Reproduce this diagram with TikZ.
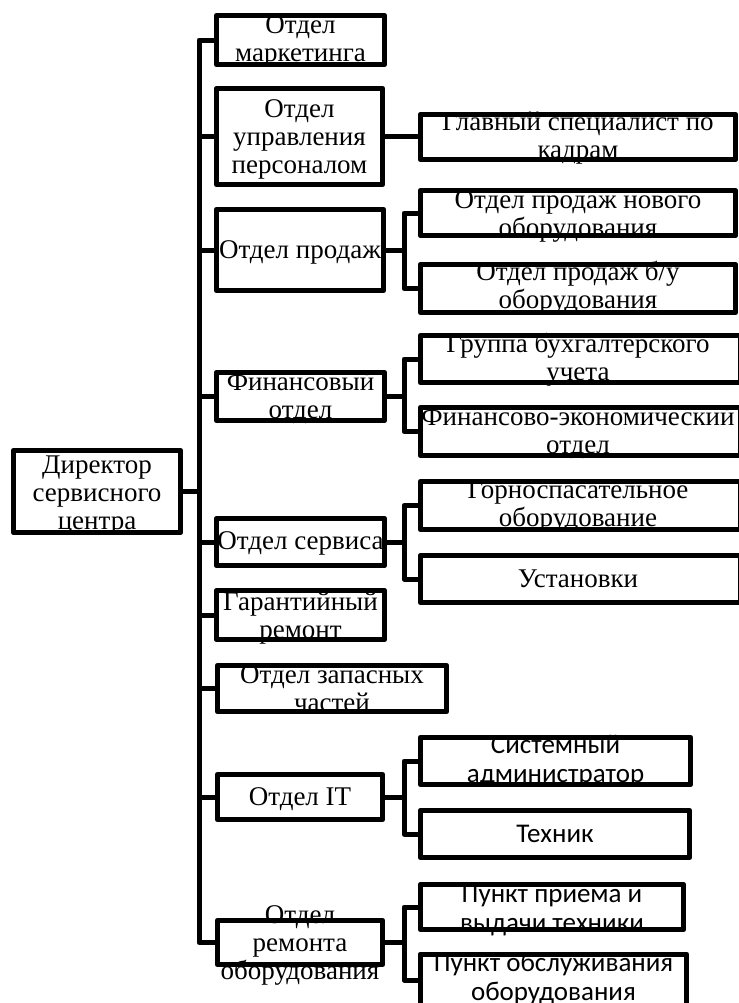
\documentclass[tikz,border=0pt]{standalone}
\usepackage{fontspec}
\setmainfont{Liberation Serif}
\newfontfamily\calfont{Carlito}
\tikzset{
  boxst/.style={draw, line width=5bp, inner sep=0pt, outer sep=0pt, line join=round, rectangle},
  conn/.style={line width=5bp, line join=round},
  txt/.style={inner sep=0pt, outer sep=0pt, align=center, anchor=north, font=\fontsize{27bp}{28bp}\selectfont},
  ctxt/.style={txt, font=\calfont\fontsize{27bp}{29bp}\selectfont},
}
\begin{document}
\begin{tikzpicture}[x=1bp,y=-1bp]
\useasboundingbox (0,0) rectangle (739,1003);
\coordinate (tr) at (199,0);
\coordinate (sb) at (404,0);
% boxes
\node[boxst, minimum width=167.5bp, minimum height=82.5bp] (dir) at (97,491.5) {};
\node[boxst, minimum width=168.5bp, minimum height=49.5bp] (mkt) at (300.5,40) {};
\node[boxst, minimum width=166.5bp, minimum height=96.5bp] (upr) at (299.5,136.5) {};
\node[boxst, minimum width=167.5bp, minimum height=81.5bp] (prod) at (300,250) {};
\node[boxst, minimum width=168.5bp, minimum height=48.5bp] (fin) at (300.5,396.5) {};
\node[boxst, minimum width=168.5bp, minimum height=47.5bp] (serv) at (300.5,542) {};
\node[boxst, minimum width=168.5bp, minimum height=49.5bp] (gar) at (300.5,615) {};
\node[boxst, minimum width=229.5bp, minimum height=46.5bp] (zap) at (332,688.5) {};
\node[boxst, minimum width=165.5bp, minimum height=45.5bp] (it) at (300,797) {};
\node[boxst, minimum width=165.5bp, minimum height=44.5bp] (rem) at (300,942.5) {};
\node[boxst, minimum width=315.5bp, minimum height=45.5bp] (glav) at (578,137) {};
\node[boxst, minimum width=315.5bp, minimum height=45.5bp] (pnew) at (578,213) {};
\node[boxst, minimum width=315.5bp, minimum height=48.5bp] (pbu) at (578,288.5) {};
\node[boxst, minimum width=320.5bp, minimum height=47.5bp] (gr) at (580.5,359) {};
\node[boxst, minimum width=320.5bp, minimum height=48.5bp] (fe) at (580.5,431.5) {};
\node[boxst, minimum width=320.5bp, minimum height=48.5bp] (gorn) at (580.5,505.5) {};
\node[boxst, minimum width=320.5bp, minimum height=47.5bp] (ust) at (580.5,579) {};
\node[boxst, minimum width=270.5bp, minimum height=47.5bp] (sys) at (555.5,761) {};
\node[boxst, minimum width=269.5bp, minimum height=47.5bp] (teh) at (555,834) {};
\node[boxst, minimum width=263.5bp, minimum height=45.5bp] (pp) at (552,907) {};
\node[boxst, minimum width=266.5bp, minimum height=52bp] (po) at (553.5,980) {};
% texts
\node[txt] (dir-t) at (97,453.4) {\strut Директор\\\strut сервисного\\\strut центра};
\node[txt] (mkt-t) at (300.5,13.4) {\strut Отдел\\\strut маркетинга};
\node[txt] (upr-t) at (299.5,97.4) {\strut Отдел\\\strut управления\\\strut персоналом};
\node[txt] (prod-t) at (300,238.4) {\strut Отдел продаж};
\node[txt] (fin-t) at (300.5,370.4) {\strut Финансовый\\\strut отдел};
\node[txt] (serv-t) at (300.5,529.4) {\strut Отдел сервиса};
\node[txt] (gar-t) at (300.5,590.4) {\strut Гарантийный\\\strut ремонт};
\node[txt] (zap-t) at (332,663.4) {\strut Отдел запасных\\\strut частей};
\node[txt] (it-t) at (300,785.4) {\strut Отдел IT};
\node[txt] (rem-t) at (300,903.4) {\strut Отдел\\\strut ремонта\\\strut оборудования};
\node[txt] (glav-t) at (578,110.4) {\strut Главный специалист по\\\strut кадрам};
\node[txt] (pnew-t) at (578,188.4) {\strut Отдел продаж нового\\\strut оборудования};
\node[txt] (pbu-t) at (578,260.4) {\strut Отдел продаж б/у\\\strut оборудования};
\node[txt] (gr-t) at (578,332.4) {\strut Группа бухгалтерского\\\strut учета};
\node[txt] (fe-t) at (578,405.4) {\strut Финансово-экономический\\\strut отдел};
\node[txt] (gorn-t) at (578,478.4) {\strut Горноспасательное\\\strut оборудование};
\node[txt] (ust-t) at (578,567.4) {\strut Установки};
\node[ctxt] (sys-t) at (555.5,732.7) {\strut Системный\\\strut администратор};
\node[ctxt] (teh-t) at (555,821.7) {\strut Техник};
\node[ctxt] (pp-t) at (552,881.7) {\strut Пункт приема и\\\strut выдачи техники};
\node[ctxt] (po-t) at (553.5,950.7) {\strut Пункт обслуживания\\\strut оборудования};
% trunk
\draw[conn] (mkt.west) -- (mkt.west -| tr) -- (rem.west -| tr) -- (rem.west);
\draw[conn] (dir.east) -- (dir.east -| tr);
\foreach \n in {upr,prod,fin,serv,gar,zap,it}{
  \draw[conn] (\n.west -| tr) -- (\n.west);
}
% sub-branches
\draw[conn] (upr.east) -- (upr.east -| glav.west);
\draw[conn] (pnew.west) -- (pnew.west -| sb) -- (pbu.west -| sb) -- (pbu.west);
\draw[conn] (prod.east) -- (prod.east -| sb);
\draw[conn] (gr.west) -- (gr.west -| sb) -- (fe.west -| sb) -- (fe.west);
\draw[conn] (fin.east) -- (fin.east -| sb);
\draw[conn] (gorn.west) -- (gorn.west -| sb) -- (ust.west -| sb) -- (ust.west);
\draw[conn] (serv.east) -- (serv.east -| sb);
\draw[conn] (sys.west) -- (sys.west -| sb) -- (teh.west -| sb) -- (teh.west);
\draw[conn] (it.east) -- (it.east -| sb);
\draw[conn] (pp.west) -- (pp.west -| sb) -- (po.west -| sb) -- (po.west);
\draw[conn] (rem.east) -- (rem.east -| sb);
\end{tikzpicture}
\end{document}
